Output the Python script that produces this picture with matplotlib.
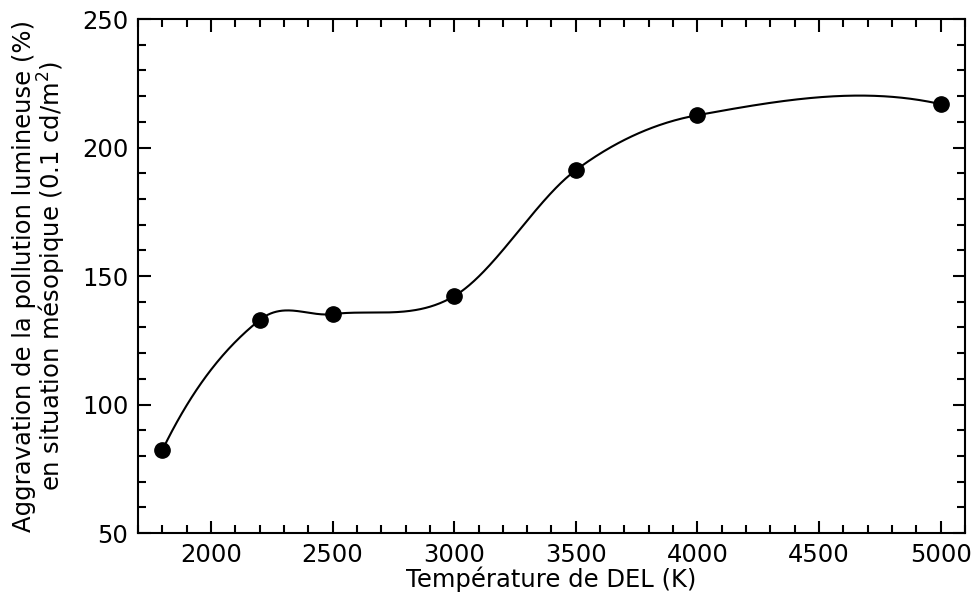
import numpy as np
import matplotlib
matplotlib.use("Agg")
import matplotlib.pyplot as plt
from matplotlib.ticker import MultipleLocator

temperature = [1800, 2200, 2500, 3000, 3500, 4000, 5000]
aggravation = [82.3, 132.9, 135.2, 142.2, 191.2, 212.6, 216.9]
x_label = "Température de DEL (K)"
y_label = "Aggravation de la pollution lumineuse (%)\nen situation mésopique (0.1 cd/m$^2$)"


def hermite_curve(x, y, xs):
    """Smooth cubic Hermite curve through the points (cardinal tangents)."""
    x = np.asarray(x, float)
    y = np.asarray(y, float)
    n = len(x)
    m = np.empty(n)
    m[1:-1] = (y[2:] - y[:-2]) / (x[2:] - x[:-2])
    # end tangents from the quadratic through the three end points
    g = np.gradient(y, x, edge_order=2)
    m[0], m[-1] = g[0], g[-1]
    idx = np.clip(np.searchsorted(x, xs) - 1, 0, n - 2)
    h = x[idx + 1] - x[idx]
    t = (xs - x[idx]) / h
    h00 = 2 * t ** 3 - 3 * t ** 2 + 1
    h10 = t ** 3 - 2 * t ** 2 + t
    h01 = -2 * t ** 3 + 3 * t ** 2
    h11 = t ** 3 - t ** 2
    return h00 * y[idx] + h10 * h * m[idx] + h01 * y[idx + 1] + h11 * h * m[idx + 1]


xs = np.linspace(min(temperature), max(temperature), 800)
ys = hermite_curve(temperature, aggravation, xs)

fig = plt.figure(figsize=(9.74, 5.95), dpi=100)
ax = fig.add_axes([0.1417, 0.104, 0.849, 0.864])
ax.plot(xs, ys, color="black", lw=1.5)
ax.plot(temperature, aggravation, "o", color="black", ms=11)

ax.set_xlim(1700, 5100)
ax.set_ylim(50, 250)
ax.xaxis.set_major_locator(MultipleLocator(500))
ax.xaxis.set_minor_locator(MultipleLocator(100))
ax.yaxis.set_major_locator(MultipleLocator(50))
ax.yaxis.set_minor_locator(MultipleLocator(10))
ax.tick_params(which="both", direction="in", top=True, right=True,
               labelsize=17.5, width=1.5)
ax.tick_params(which="major", length=9, pad=7)
ax.tick_params(which="minor", length=5.5)
for s in ax.spines.values():
    s.set_linewidth(1.5)
ax.set_xlabel(x_label, fontsize=17.5, labelpad=0)
ax.set_ylabel(y_label, fontsize=17.5, linespacing=1.0, labelpad=10)

fig.savefig("out.png", dpi=100)
